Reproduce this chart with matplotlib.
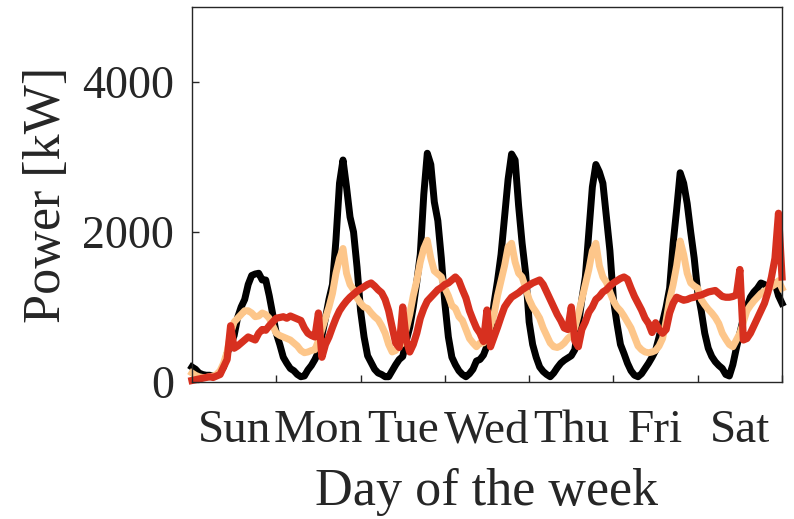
import numpy as np
import matplotlib.pyplot as plt

plt.rcParams['font.family'] = ['Liberation Serif', 'DejaVu Serif']

days = ['Sun', 'Mon', 'Tue', 'Wed', 'Thu', 'Fri', 'Sat']

# hourly power [kW], Sunday 0h .. Saturday 24h
load_black = [200, 170, 120, 100, 90, 90, 80, 90, 130, 200, 380, 500, 620, 860, 1000, 1100, 1300, 1420, 1440, 1450, 1360, 1360, 1150, 900, 650,
              500, 330, 250, 180, 150, 100, 70, 80, 160, 220, 300, 400, 620, 850, 1100, 1300, 1900, 2650, 2960, 2600, 2200, 2000, 1530, 950,
              600, 350, 260, 170, 120, 100, 70, 70, 150, 230, 300, 340, 550, 730, 1000, 1330, 1700, 2500, 3050, 2900, 2400, 2150, 1650, 1050,
              600, 330, 230, 150, 100, 70, 110, 170, 280, 300, 360, 480, 650, 1050, 1350, 1700, 2200, 2700, 3040, 2960, 2350, 1850, 1450, 800,
              500, 330, 200, 140, 100, 70, 120, 190, 250, 290, 320, 350, 430, 750, 1100, 1400, 2000, 2600, 2900, 2800, 2650, 2200, 1750, 1100,
              780, 500, 380, 250, 150, 90, 70, 110, 180, 250, 330, 420, 600, 800, 1000, 1250, 1850, 2300, 2790, 2650, 2380, 2000, 1650, 1200,
              950, 650, 450, 340, 270, 220, 180, 100, 80, 230, 450, 650, 850, 1000, 1130, 1200, 1250, 1320, 1300, 1270, 1300, 1320, 1150, 1050]

load_orange = [120, 90, 70, 60, 60, 70, 80, 100, 150, 250, 400, 650, 800, 850, 900, 950, 950, 920, 870, 880, 920, 900, 850, 750, 650,
               620, 600, 580, 560, 520, 480, 420, 390, 400, 420, 430, 550, 700, 850, 1000, 1180, 1450, 1650, 1780, 1450, 1300, 1230, 1120, 1050,
               1000, 980, 920, 870, 830, 750, 650, 500, 400, 420, 480, 520, 700, 900, 1150, 1350, 1600, 1780, 1890, 1650, 1480, 1440, 1400, 1250,
               1150, 1020, 980, 870, 820, 700, 580, 520, 470, 520, 520, 600, 750, 900, 1150, 1350, 1550, 1800, 1850, 1600, 1450, 1400, 1250, 1100,
               1000, 930, 850, 720, 620, 520, 470, 460, 480, 520, 580, 620, 720, 900, 1100, 1300, 1500, 1750, 1850, 1550, 1400, 1330, 1200, 1080,
               1000, 950, 880, 800, 720, 600, 480, 430, 400, 390, 400, 420, 480, 580, 820, 1100, 1300, 1550, 1880, 1700, 1450, 1320, 1280, 1250,
               1100, 1030, 970, 920, 860, 780, 650, 570, 500, 470, 560, 650, 800, 950, 1020, 1080, 1130, 1180, 1210, 1240, 1270, 1300, 1350, 1250]

load_red = [20, 30, 40, 50, 60, 70, 60, 80, 100, 200, 300, 750, 450, 480, 520, 560, 600, 580, 560, 650, 700, 690, 750, 800, 850,
            860, 870, 850, 880, 860, 840, 820, 720, 650, 620, 600, 920, 330, 500, 600, 730, 850, 950, 1020, 1080, 1130, 1170, 1210, 1240,
            1270, 1300, 1320, 1280, 1230, 1190, 1100, 950, 730, 520, 460, 1000, 560, 400, 500, 650, 850, 980, 1080, 1130, 1180, 1230, 1260, 1300,
            1320, 1360, 1400, 1350, 1230, 1120, 950, 830, 720, 650, 540, 960, 470, 600, 730, 870, 1000, 1070, 1130, 1160, 1190, 1230, 1260, 1290,
            1320, 1340, 1360, 1300, 1200, 1100, 1000, 900, 820, 720, 700, 1000, 550, 470, 700, 800, 930, 1000, 1100, 1140, 1200, 1230, 1280, 1320,
            1350, 1380, 1400, 1370, 1250, 1140, 1050, 960, 850, 780, 660, 790, 700, 650, 700, 920, 1050, 1130, 1110, 1090, 1100, 1120, 1130, 1150,
            1160, 1180, 1200, 1210, 1220, 1180, 1140, 1130, 1130, 1140, 1160, 1500, 560, 580, 650, 750, 850, 950, 1050, 1200, 1400, 1650, 2250, 1400]

hours = np.arange(len(load_black))

fig = plt.figure(figsize=(7.94, 5.19), dpi=100)
ax = fig.add_axes([0.2418, 0.264, 0.7431, 0.7225])

ax.plot(hours, load_black, color='black', lw=5, clip_on=False)
ax.plot(hours, load_orange, color='#fdc68a', lw=5, clip_on=False)
ax.plot(hours, load_red, color='#d7301f', lw=5.2, clip_on=False)

ax.set_xlim(0, 168)
ax.set_ylim(0, 5000)
ax.set_yticks([0, 2000, 4000])
ax.set_xticks(np.arange(0, 169, 24))
ax.set_xticklabels([])
ax.set_xticks(np.arange(12, 168, 24), minor=True)
ax.set_xticklabels(days, minor=True)

ax.tick_params(axis='both', which='major', direction='in', length=5, width=1,
               colors='#262626', labelsize=33)
ax.tick_params(axis='y', pad=13)
ax.tick_params(axis='x', which='minor', length=0, pad=20, labelsize=34, labelcolor='#262626')
for s in ax.spines.values():
    s.set_color('#262626')
    s.set_linewidth(1)

ax.set_xlabel('Day of the week', fontsize=37.5, color='#262626', labelpad=11)
ax.set_ylabel('Power [kW]', fontsize=37.5, color='#262626', labelpad=8)

fig.savefig('out.png', dpi=100)
